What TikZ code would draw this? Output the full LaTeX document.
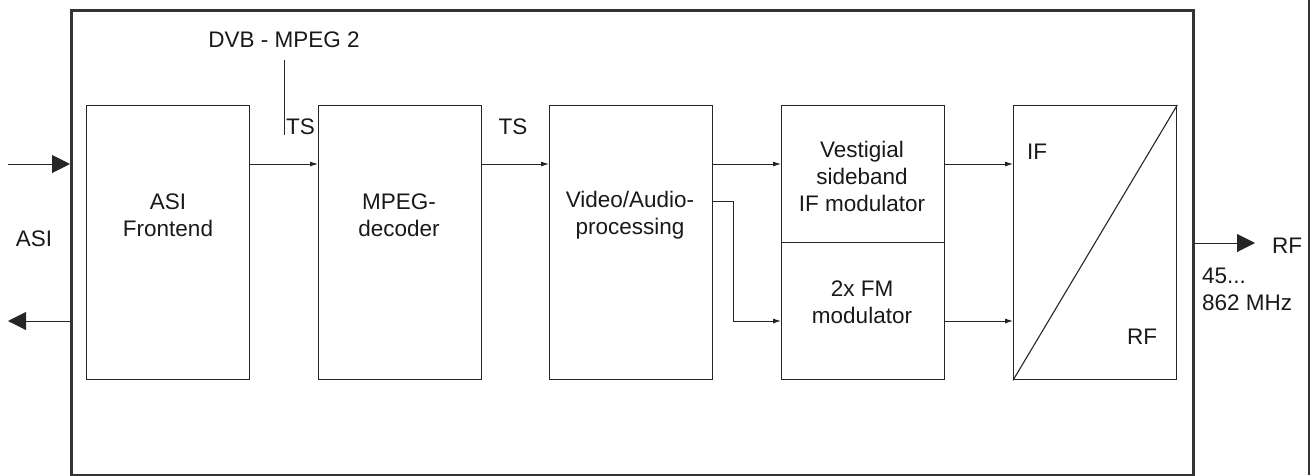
\documentclass[tikz,border=0pt]{standalone}
\usepackage{fontspec}
\setmainfont{Liberation Sans}
\usetikzlibrary{arrows.meta}
\begin{document}
\begin{tikzpicture}[x=1pt,y=-1pt,
 blk/.style={draw=black!85, line width=1.3pt, minimum width=163pt, minimum height=274pt, anchor=north west, inner sep=0pt},
 txt/.style={font=\fontsize{22.5}{27}\selectfont, align=center, inner sep=0pt, text=black!90},
 con/.style={draw=black!85, line width=0.9pt, -{Latex[length=8pt,width=5pt]}},
 big/.style={draw=black!85, line width=1pt, -{Triangle[length=18pt,width=18pt]}},
 frm/.style={draw=black!80, line width=2.5pt},
]
\useasboundingbox (0,0) rectangle (1314,475);
% outer frame
\node[frm, anchor=north west, minimum width=1122pt, minimum height=465pt, inner sep=0pt] (frame) at (70,9) {};
\coordinate (rtop) at (1309,0);
\coordinate (rbot) at (1309,475);
\draw[frm] (rtop) -- (rbot);
% blocks
\node[blk] (fe) at (86,105) {};
\node[blk] (dec) at (318,105) {};
\node[blk] (vap) at (549,105) {};
\node[blk, minimum height=137pt] (vsb) at (781,105) {};
\node[blk, minimum height=137pt] (fm) at (781,242) {};
\node[blk] (conv) at (1013,105) {};
\draw[draw=black!85, line width=1.1pt] (conv.south west) -- (conv.north east);
% block texts
\node[txt] (tfe) at (168,215) {ASI\\Frontend};
\node[txt] (tdec) at (399,215) {MPEG-\\decoder};
\node[txt] (tvap) at (630,215) {Video/Audio-\\processing};
\node[txt] (tvsb) at (862,176) {Vestigial\\sideband\\IF modulator};
\node[txt] (tfm) at (862,302) {2x FM\\modulator};
\node[txt] (tif) at (1037,152) {IF};
\node[txt] (trf) at (1142,337) {RF};
% top label
\node[txt] (dvb) at (284,40) {DVB - MPEG 2};
\coordinate (dvbt) at (284,60);
\coordinate (dvbb) at (284,135);
\draw[draw=black!85, line width=1pt] (dvbt) -- (dvbb);
\node[txt, anchor=south west] (ts1) at (286,134.5) {TS};
\node[txt] (ts2) at (513,127) {TS};
% connectors
\draw[con] ([yshift=-59pt]fe.north east) -- ([yshift=-59pt]dec.north west);
\draw[con] ([yshift=-59pt]dec.north east) -- ([yshift=-59pt]vap.north west);
\draw[con] ([yshift=-59pt]vap.north east) -- ([yshift=-59pt]vsb.north west);
\draw[con] ([yshift=-96pt]vap.north east) -- ++(20,0) |- ([yshift=-79pt]fm.north west);
\draw[con] ([yshift=-59pt]vsb.north east) -- ([yshift=-59pt]conv.north west);
\draw[con] ([yshift=-79pt]fm.north east) -- ([yshift=-216pt]conv.north west);
% external I/O
\coordinate (ain) at (8,164);
\coordinate (aout) at (8,321);
\coordinate (rfo) at (1255,243);
\draw[big] (ain) -- (frame.west |- ain);
\draw[big] (frame.west |- aout) -- (aout);
\draw[big] (frame.east |- rfo) -- (rfo);
\node[txt] (asi) at (34,239) {ASI};
\node[txt] (rfl) at (1287,246) {RF};
\node[txt, anchor=north west, align=left] (mhz) at (1202,268) {45...\\862 MHz};
\end{tikzpicture}
\end{document}
